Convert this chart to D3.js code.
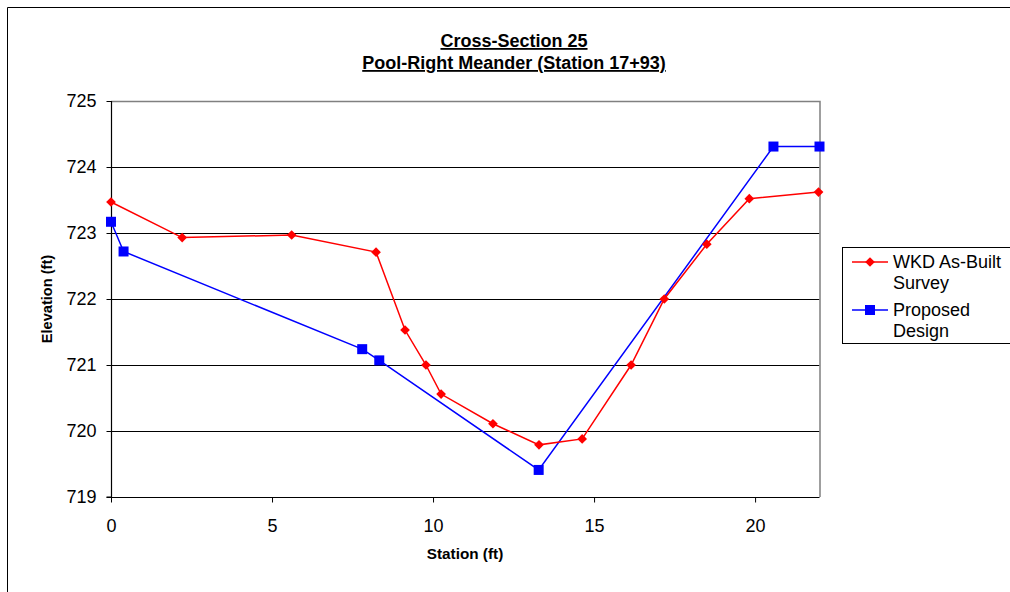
<!DOCTYPE html>
<html><head><meta charset="utf-8">
<script src="https://cdn.jsdelivr.net/npm/d3@7"></script>
<style>body{margin:0;background:#fff;} svg{display:block;font-family:"Liberation Sans",Arial,sans-serif;}</style>
</head><body><svg id="c" width="1010" height="592"></svg>
<script>
const titleLines = ["Cross-Section 25", "Pool-Right Meander (Station 17+93)"];
const xLabel = "Station (ft)";
const yLabel = "Elevation (ft)";
const xTicks = [0, 5, 10, 15, 20];
const yTicks = [719, 720, 721, 722, 723, 724, 725];
const surveyStation = [0, 2.21, 5.61, 8.23, 9.13, 9.78, 10.25, 11.86, 13.29, 14.63, 16.15, 17.18, 18.5, 19.82, 21.97];
const surveyElev = [723.47, 722.93, 722.97, 722.71, 721.53, 721.0, 720.56, 720.11, 719.79, 719.88, 721.0, 722.0, 722.83, 723.52, 723.62];
const designStation = [0, 0.39, 7.8, 8.33, 13.28, 20.57, 22];
const designElev = [723.17, 722.72, 721.24, 721.07, 719.41, 724.31, 724.31];
const seriesNames = [["WKD As-Built", "Survey"], ["Proposed", "Design"]];

const svg = d3.select("#c");
// outer chart frame
svg.append("path").attr("d","M7.5,600 V7.5 H1020").attr("fill","none").attr("stroke","#000").attr("stroke-width",1);

const L=111, R=819.5, T=101, B=497;
const x = d3.scaleLinear().domain([0,22]).range([L,R]);
const y = d3.scaleLinear().domain([719,725]).range([B,T]);

// gridlines
svg.append("g").selectAll("line").data(yTicks.filter(v=>v>719 && v<725)).join("line")
  .attr("x1",L).attr("x2",R).attr("y1",d=>y(d)+0.5).attr("y2",d=>y(d)+0.5)
  .attr("stroke","#000").attr("stroke-width",1);
// plot border top/right gray
svg.append("path").attr("d",`M${L},${T+0.5} H${R+0.5} V${B}`).attr("fill","none").attr("stroke","#808080").attr("stroke-width",1.5);

// axes
const yAxis = d3.axisLeft(y).tickValues(yTicks).tickSize(5).tickPadding(10).tickFormat(d3.format("d"));
const gy = svg.append("g").attr("transform",`translate(${L+0.5},0)`).call(yAxis);
const xAxis = d3.axisBottom(x).tickValues(xTicks).tickSize(5).tickPadding(17).tickFormat(d3.format("d"));
const gx = svg.append("g").attr("transform",`translate(0,${B+0.5})`).call(xAxis);
[gx,gy].forEach(g=>{
  g.select(".domain").attr("stroke","#000").attr("stroke-width",1.2);
  g.selectAll(".tick line").attr("stroke","#000");
  g.selectAll(".tick text").attr("font-size",18).attr("fill","#000").attr("font-family","Liberation Sans, Arial, sans-serif");
});
gy.select(".domain").attr("d",`M-5,${B}H0V${T}`);
gx.select(".domain").attr("d",`M${L},0H${R}`);

// titles
titleLines.forEach((t,i)=>{
  svg.append("text").attr("x",514).attr("y",47+i*22).attr("text-anchor","middle")
    .attr("font-size",18).attr("font-weight","bold").attr("text-decoration","underline").text(t);
});
svg.append("text").attr("x",465).attr("y",559).attr("text-anchor","middle").attr("font-size",15.3).attr("font-weight","bold").text(xLabel);
svg.append("text").attr("transform","translate(52,299) rotate(-90)").attr("text-anchor","middle").attr("font-size",14.6).attr("font-weight","bold").text(yLabel);

const line = d3.line().x(d=>x(d[0])).y(d=>y(d[1]));
const survey = surveyStation.map((s,i)=>[s,surveyElev[i]]);
const design = designStation.map((s,i)=>[s,designElev[i]]);

svg.append("path").datum(design).attr("d",line).attr("fill","none").attr("stroke","#0000ff").attr("stroke-width",1.5);
svg.append("g").selectAll("rect").data(design).join("rect")
  .attr("x",d=>x(d[0])-5).attr("y",d=>y(d[1])-5).attr("width",10).attr("height",10).attr("fill","#0000ff");
svg.append("path").datum(survey).attr("d",line).attr("fill","none").attr("stroke","#ff0000").attr("stroke-width",1.5);
const diamond = d3.symbol().type(d3.symbolDiamond2).size(60);
svg.append("g").selectAll("path").data(survey).join("path")
  .attr("transform",d=>`translate(${x(d[0])},${y(d[1])})`).attr("d",diamond).attr("fill","#ff0000");

// legend
svg.append("rect").attr("x",842.5).attr("y",247.5).attr("width",180).attr("height",96).attr("fill","#fff").attr("stroke","#000").attr("stroke-width",1);
const lg = [{c:"#ff0000",y:262,shape:"d"},{c:"#0000ff",y:310,shape:"s"}];
lg.forEach((l,i)=>{
  svg.append("line").attr("x1",852).attr("x2",888).attr("y1",l.y).attr("y2",l.y).attr("stroke",l.c).attr("stroke-width",1.5);
  if(l.shape==="d") svg.append("path").attr("transform",`translate(870,${l.y})`).attr("d",diamond).attr("fill",l.c);
  else svg.append("rect").attr("x",865).attr("y",l.y-5).attr("width",10).attr("height",10).attr("fill",l.c);
  seriesNames[i].forEach((t,j)=>{
    svg.append("text").attr("x",893).attr("y",l.y+6+j*21).attr("font-size",18).text(t);
  });
});
</script></body></html>
